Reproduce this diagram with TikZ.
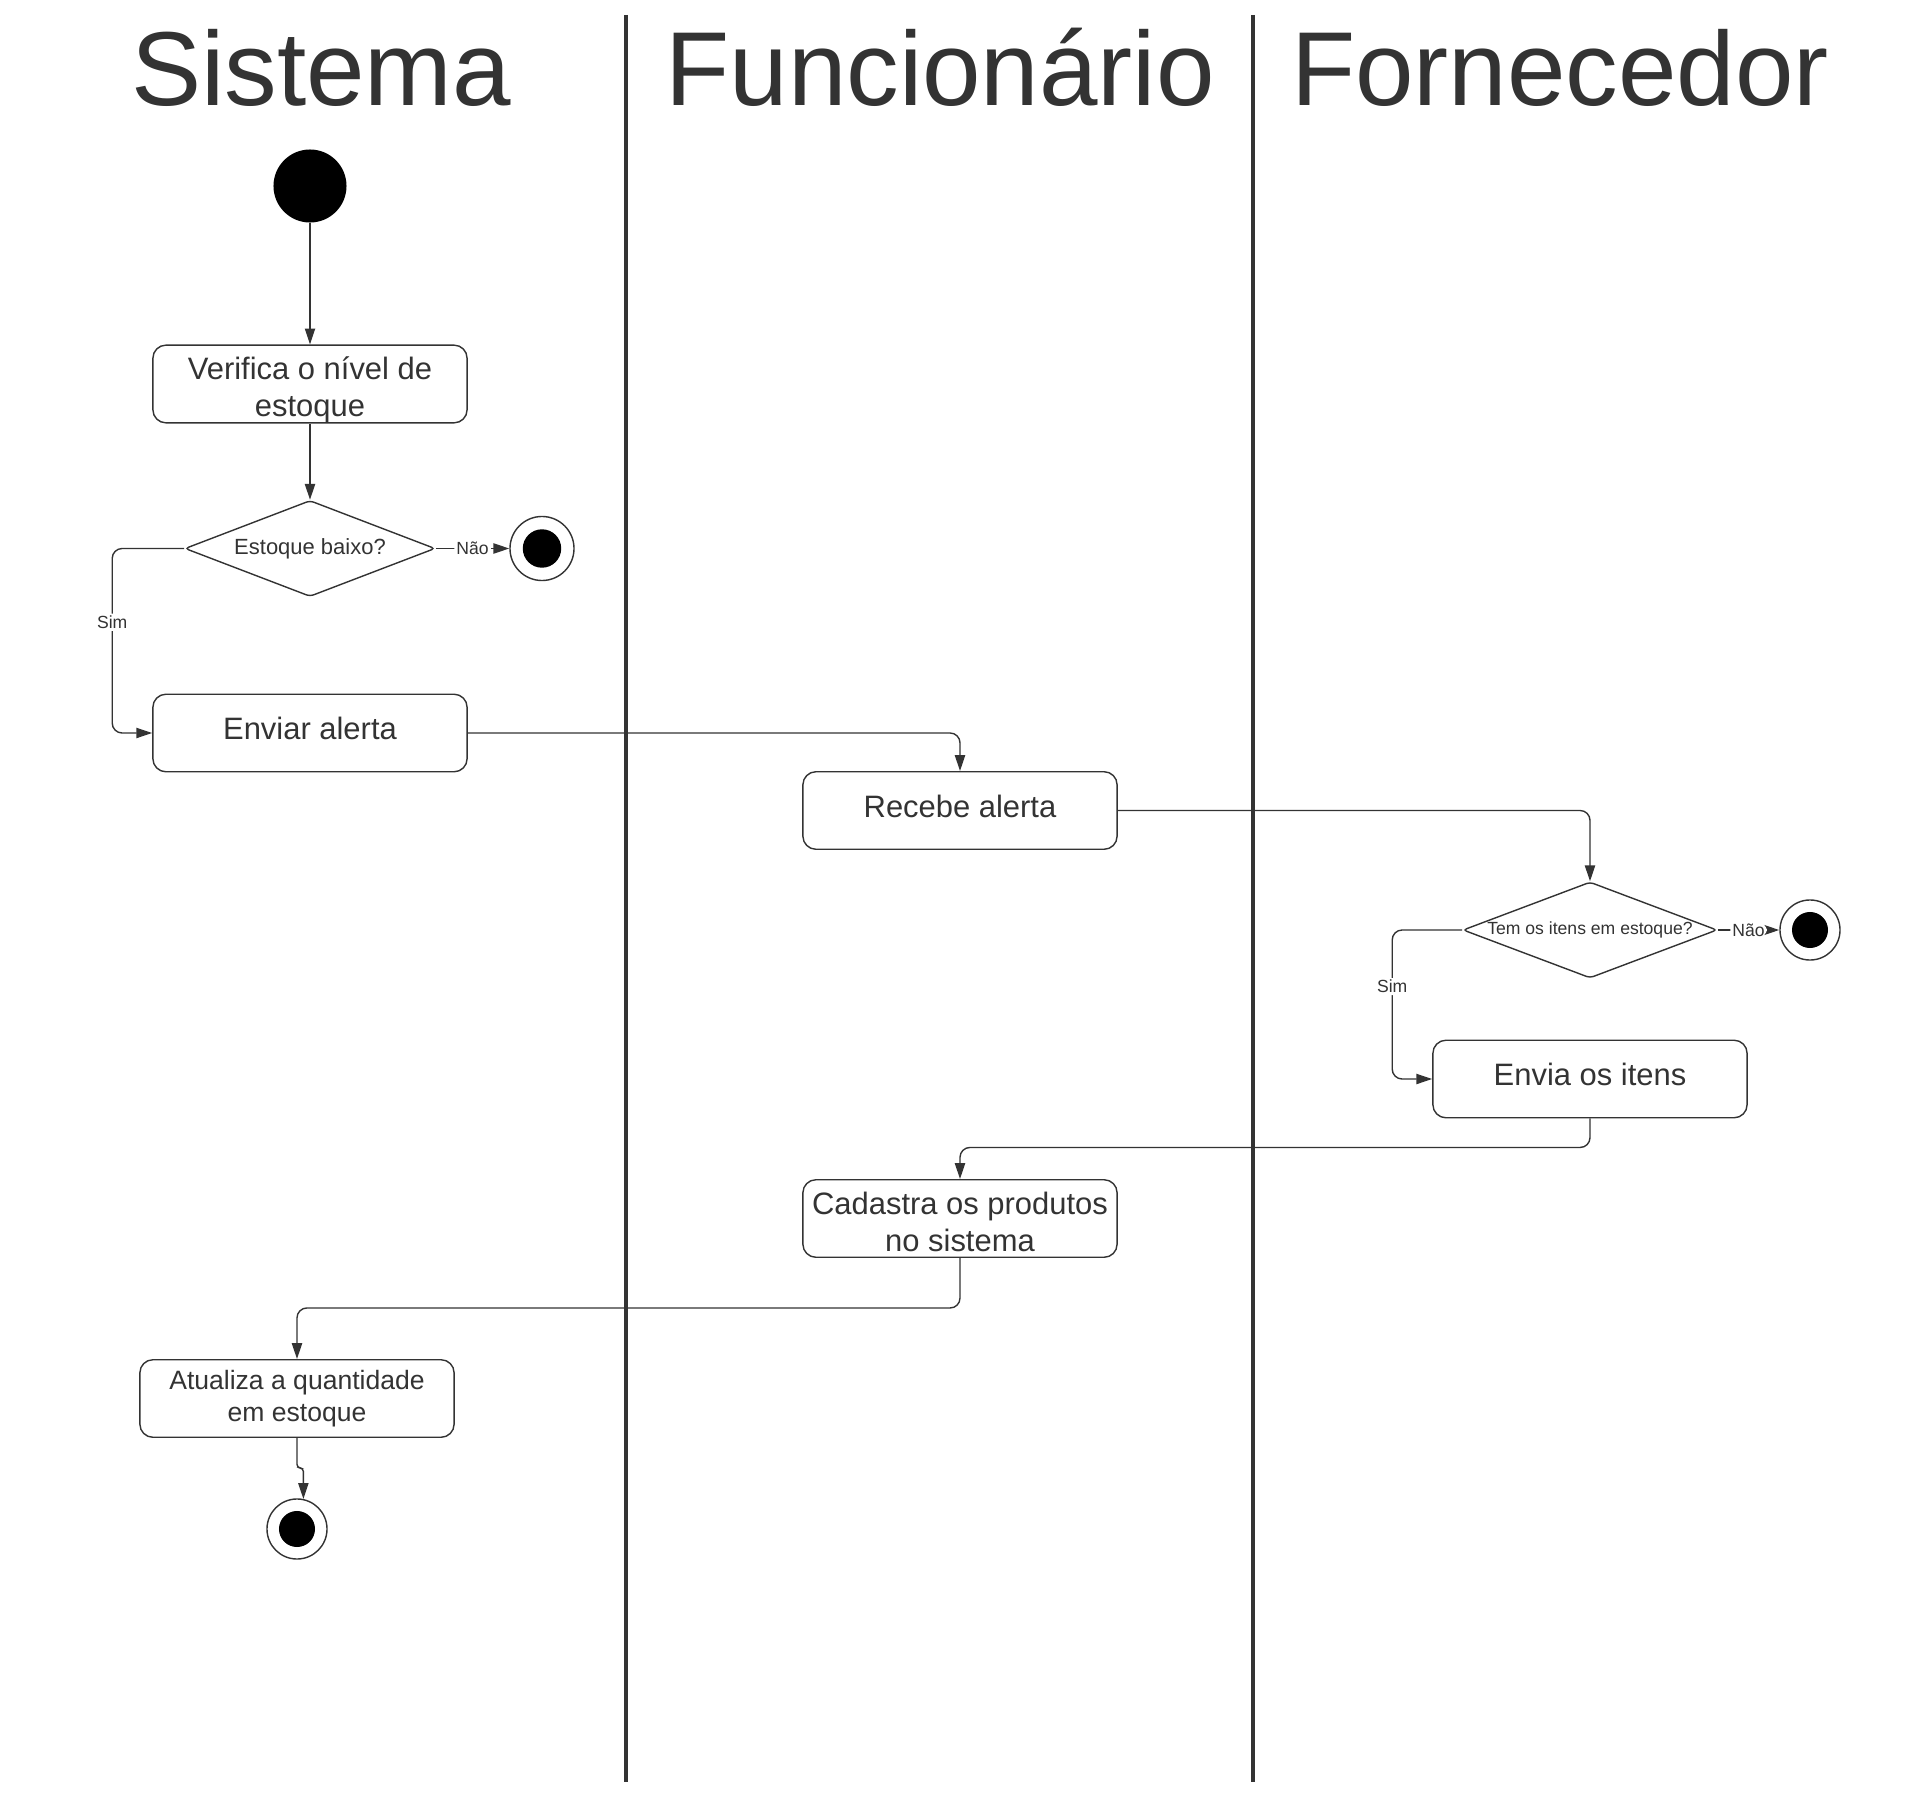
\documentclass[tikz,border=0pt]{standalone}
\usepackage{fontspec}
\setmainfont{Liberation Sans}
\usetikzlibrary{shapes.geometric,arrows.meta,positioning}
\definecolor{ink}{HTML}{333333}
\tikzset{
  lane title/.style={font={\fontsize{29.9pt}{36pt}\selectfont},text=ink,anchor=base,inner sep=0pt},
  lane/.style={draw=ink,line width=1.35pt},
  activity/.style={rectangle,rounded corners=3.7pt,draw=ink,line width=0.4pt,
    minimum width=3.14cm,minimum height=0.775cm,inner sep=0pt,align=center,
    text=ink,font={\fontsize{8.8pt}{10.4pt}\selectfont}},
  oneline/.style={activity,text depth=0.085cm},
  decision/.style={diamond,aspect=2.6,draw=ink,line width=0.4pt,rounded corners=1pt,
    minimum width=2.5cm,minimum height=0.96cm,inner sep=0pt,
    text=ink,font={\fontsize{6.25pt}{7.5pt}\selectfont}},
  startdot/.style={circle,fill=black,minimum size=7.3mm,inner sep=0pt},
  enddot/.style={circle,draw=ink,line width=0.4pt,minimum size=#1,inner sep=0pt,
    path picture={\fill[black] (path picture bounding box.center) circle ({0.3*#1});}},
  enddot/.default=6mm,
  flow/.style={draw=ink,line width=0.4pt,rounded corners=2.8pt,
    -{Triangle[length=4.5pt,width=2.9pt]}},
  guard/.style={fill=white,inner sep=0.6pt,text=ink,font={\fontsize{5pt}{6pt}\selectfont}},
}
\begin{document}
\begin{tikzpicture}[x=0.01cm,y=-0.01cm]
\useasboundingbox (0,0) rectangle (1920,1797);
% lanes
\node[lane title] (sistema) at (321,106) {Sistema};
\node[lane title] (funcionario) at (940,106) {Funcionário};
\node[lane title] (fornecedor) at (1560,106) {Fornecedor};
\draw[lane] (626,15) -- (626,1782);
\draw[lane] (1253,15) -- (1253,1782);

% Sistema
\node[startdot] (inicio) at (310,186) {};
\node[activity] (verifica) at (310,384) {\rule{0pt}{0.347cm}Verifica o nível de\\estoque};
\node[decision] (baixo) at (310,548.5) {Estoque baixo?};
\node[enddot=6.4mm] (fim1) at (542,548.5) {};
\node[oneline] (alerta) at (310,733) {Enviar alerta};
\node[activity,font={\fontsize{7.55pt}{8.9pt}\selectfont}] (atualiza) at (297,1398.5) {Atualiza a quantidade\\em estoque};
\node[enddot] (fim3) at (297,1529) {};

% Funcionario
\node[oneline] (recebe) at (960,810.5) {Recebe alerta};
\node[activity] (cadastra) at (960,1218.5) {\rule{0pt}{0.29cm}Cadastra os produtos\\no sistema};

% Fornecedor
\node[decision,aspect=2.63,minimum width=2.54cm,font={\fontsize{5pt}{6pt}\selectfont}] (temitens) at (1590,930) {Tem os itens em estoque?};
\node[enddot] (fim2) at (1810,930) {};
\node[oneline] (envia) at (1590,1079) {Envia os itens};

% flows
\draw[flow] (inicio) -- (verifica);
\draw[flow] (verifica) -- (baixo);
\draw[flow] (baixo) -- node[guard]{Não} (fim1);
\draw[flow] (baixo.west) -- ++(-72,0) |- node[guard,pos=0.2]{Sim} (alerta.west);
\draw[flow] (alerta.east) -| (recebe.north);
\draw[flow] (recebe.east) -| (temitens.north);
\draw[flow] (temitens) -- node[guard]{Não} (fim2);
\draw[flow] (temitens.west) -- ++(-70,0) |- node[guard,pos=0.19]{Sim} (envia.west);
\draw[flow] (envia.south) -- ++(0,29) -| (cadastra.north);
\draw[flow] (cadastra.south) -- ++(0,50) -| (atualiza.north);
\draw[flow,rounded corners=1pt] (atualiza.south) -- ++(0,30) -| (fim3.78);
\end{tikzpicture}
\end{document}
